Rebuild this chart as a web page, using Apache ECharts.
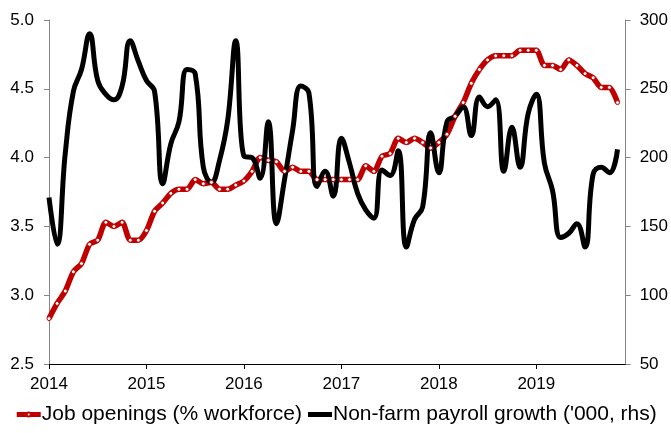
<!DOCTYPE html>
<html>
<head>
<meta charset="utf-8">
<script src="https://cdn.jsdelivr.net/npm/echarts@6/dist/echarts.min.js"></script>
<style>
  html, body { margin: 0; padding: 0; background: #fff; }
  #chart { width: 671px; height: 433px; }
</style>
</head>
<body>
<div id="chart"></div>
<script>
const years = [2014, 2015, 2016, 2017, 2018, 2019];

// Job openings, % of workforce (left axis), monthly from Jan 2014
const jobOpenings = [
  2.83, 2.94, 3.03, 3.17, 3.23, 3.37, 3.40, 3.53, 3.50, 3.53, 3.40, 3.40,
  3.47, 3.61, 3.67, 3.74, 3.77, 3.77, 3.84, 3.81, 3.82, 3.77, 3.77, 3.80,
  3.83, 3.90, 4.00, 3.98, 3.97, 3.90, 3.93, 3.90, 3.90, 3.84, 3.84, 3.84,
  3.84, 3.84, 3.84, 3.94, 3.90, 4.01, 4.03, 4.14, 4.11, 4.14, 4.11, 4.07,
  4.11, 4.17, 4.30, 4.40, 4.54, 4.64, 4.71, 4.74, 4.74, 4.74, 4.78, 4.78,
  4.78, 4.67, 4.67, 4.64, 4.71, 4.67, 4.61, 4.58, 4.51, 4.51, 4.40
];

// Non-farm payroll growth, '000 (right axis)
const payrolls = [
  171, 137, 203, 248, 264, 290, 256, 246, 242, 252, 285, 270,
  256, 248, 181, 210, 226, 264, 261, 193, 182, 198, 227, 285,
  201, 200, 185, 226, 152, 184, 220, 252, 247, 179, 190, 172,
  214, 196, 174, 162, 156, 191, 187, 205, 135, 155, 164, 218,
  189, 226, 230, 237, 216, 244, 237, 242, 190, 222, 193, 232,
  246, 196, 176, 142, 145, 152, 135, 188, 193, 189, 206
];

const seriesNames = ['Job openings (% workforce)', "Non-farm payroll growth ('000, rhs)"];

const months = [];
years.forEach(y => {
  for (let m = 1; m <= 12; m++) months.push(y + '-' + String(m).padStart(2, '0'));
});

const FONT = 'Liberation Sans, Arial, sans-serif';
const isYearStart = (i) => i % 12 === 0;

const chart = echarts.init(document.getElementById('chart'));
chart.setOption({
  animation: false,
  textStyle: { fontFamily: FONT },
  grid: { left: 49, right: 44, top: 20, bottom: 69, containLabel: false },
  legend: {
    bottom: 3,
    left: 'center',
    itemWidth: 24,
    itemHeight: 5,
    itemGap: 6,
    lineStyle: { width: 5 },
    textStyle: { fontSize: 21, color: '#000', fontFamily: FONT, padding: [0, 0, 0, -4] },
    data: [
      { name: seriesNames[0] },
      { name: seriesNames[1], icon: 'path://M0,0 L24,0 L24,5 L0,5 Z' }
    ]
  },
  xAxis: {
    type: 'category',
    data: months,
    boundaryGap: false,
    axisLine: { lineStyle: { color: '#000', width: 1 } },
    axisTick: { interval: isYearStart, length: 5, lineStyle: { color: '#000' } },
    axisLabel: {
      interval: isYearStart,
      formatter: (v) => v.slice(0, 4),
      fontSize: 17,
      color: '#000',
      margin: 12
    },
    splitLine: { show: false }
  },
  yAxis: [
    {
      type: 'value',
      min: 2.5,
      max: 5,
      interval: 0.5,
      axisLine: { show: true, lineStyle: { color: '#868686' } },
      axisTick: { show: true, length: 5, lineStyle: { color: '#868686' } },
      axisLabel: { formatter: (v) => v.toFixed(1), fontSize: 17, color: '#000', margin: 15 },
      splitLine: { show: false }
    },
    {
      type: 'value',
      min: 50,
      max: 300,
      interval: 50,
      position: 'right',
      axisLine: { show: true, lineStyle: { color: '#868686' } },
      axisTick: { show: true, length: 5, lineStyle: { color: '#868686' } },
      axisLabel: { fontSize: 17, color: '#000', margin: 14 },
      splitLine: { show: false }
    }
  ],
  series: [
    {
      name: seriesNames[0],
      type: 'line',
      yAxisIndex: 0,
      data: jobOpenings,
      smooth: 0.25,
      symbol: 'circle',
      symbolSize: 4,
      showAllSymbol: true,
      lineStyle: { color: '#c00000', width: 5.5 },
      itemStyle: { color: '#fff', borderColor: '#c00000', borderWidth: 1 }
    },
    {
      name: seriesNames[1],
      type: 'line',
      yAxisIndex: 1,
      data: payrolls,
      smooth: 0.45,
      symbol: 'none',
      lineStyle: { color: '#000', width: 5 },
      itemStyle: { color: '#000' }
    }
  ]
});
</script>
</body>
</html>
